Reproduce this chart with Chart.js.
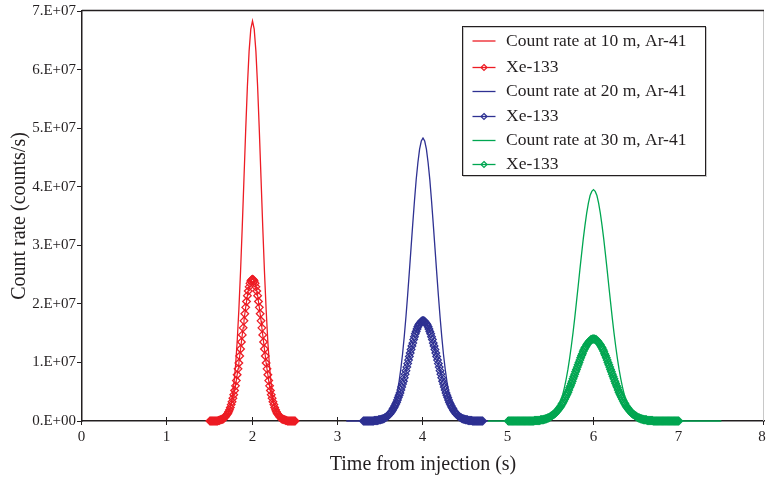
<!DOCTYPE html>
<html>
<head>
<meta charset="utf-8">
<script src="https://cdn.jsdelivr.net/npm/chart.js@4.4.1/dist/chart.umd.min.js"></script>
<style>
  html, body { margin: 0; padding: 0; background: #fff; }
  canvas { display: block; }
</style>
</head>
<body>
<canvas id="chart" width="766" height="482"></canvas>
<script>
// All count rates in units of 1E6 counts/s.
// Each series is sampled on a regular time grid: start time + index * step (s).

const xTicks = [0, 1, 2, 3, 4, 5, 6, 7, 8];
const xTickLabels = ['0', '1', '2', '3', '4', '5', '6', '7', '8'];
const yTickLabels = ['0.E+00', '1.E+07', '2.E+07', '3.E+07', '4.E+07', '5.E+07', '6.E+07', '7.E+07'];

const seriesLabels = [
  'Count rate at 10 m, Ar-41', 'Xe-133',
  'Count rate at 20 m, Ar-41', 'Xe-133',
  'Count rate at 30 m, Ar-41', 'Xe-133'
];

// Ar-41 at 10 m, 1.50 .. 2.50 s every 0.02 s
const ar10Start = 1.5, ar10Step = 0.02;
const ar10 = [
  0, 0, 0, 0, 0, 0,
  0.1, 0.1, 0.2, 0.4, 0.8, 1.4, 2.3, 3.8, 6.1, 9.2, 13.5, 19.0, 25.6, 33.2, 41.4, 49.6, 57.1, 63.1, 66.9,
  68.3,
  66.9, 63.1, 57.1, 49.6, 41.4, 33.2, 25.6, 19.0, 13.5, 9.2, 6.1, 3.8, 2.3, 1.4, 0.8, 0.4, 0.2, 0.1, 0.1,
  0, 0, 0, 0, 0, 0
];

// Xe-133 at 10 m, 1.50 .. 2.50 s every 0.01 s
const xe10Start = 1.5, xe10Step = 0.01;
const xe10 = [
  0, 0, 0, 0, 0, 0, 0, 0, 0, 0,
  0.1, 0.1, 0.2, 0.2, 0.3, 0.3, 0.4, 0.6, 0.7, 0.9,
  1.1, 1.3, 1.6, 1.9, 2.3, 2.8, 3.3, 3.9, 4.5, 5.2,
  6.0, 6.9, 7.9, 8.9, 9.9, 11.1, 12.3, 13.5, 14.7, 15.9,
  17.1, 18.3, 19.4, 20.4, 21.4, 22.2, 22.9, 23.5, 23.9, 24.1,
  24.2,
  24.1, 23.9, 23.5, 22.9, 22.2, 21.4, 20.4, 19.4, 18.3, 17.1,
  15.9, 14.7, 13.5, 12.3, 11.1, 9.9, 8.9, 7.9, 6.9, 6.0,
  5.2, 4.5, 3.9, 3.3, 2.8, 2.3, 1.9, 1.6, 1.3, 1.1,
  0.9, 0.7, 0.6, 0.4, 0.3, 0.3, 0.2, 0.2, 0.1, 0.1,
  0, 0, 0, 0, 0, 0, 0, 0, 0, 0
];

// Ar-41 at 20 m, 3.10 .. 4.76 s every 0.02 s
const ar20Start = 3.1, ar20Step = 0.02;
const ar20 = [
  0, 0, 0, 0, 0, 0, 0, 0, 0, 0, 0, 0, 0, 0, 0, 0, 0, 0, 0,
  0.1, 0.1, 0.2, 0.2, 0.4, 0.6, 0.9, 1.3, 1.9, 2.7, 3.7, 5.1, 6.8,
  8.9, 11.4, 14.4, 17.8, 21.5, 25.5, 29.6, 33.7, 37.6, 41.2, 44.1, 46.4, 47.8,
  48.3,
  47.8, 46.4, 44.1, 41.2, 37.6, 33.7, 29.6, 25.5, 21.5, 17.8, 14.4, 11.4, 8.9,
  6.8, 5.1, 3.7, 2.7, 1.9, 1.3, 0.9, 0.6, 0.4, 0.2, 0.2, 0.1, 0.1,
  0, 0, 0, 0, 0, 0, 0, 0, 0, 0, 0, 0
];

// Xe-133 at 20 m, 3.30 .. 4.70 s every 0.01 s
const xe20Start = 3.3, xe20Step = 0.01;
const xe20 = [
  0, 0, 0, 0, 0, 0, 0, 0, 0, 0, 0, 0, 0,
  0.1, 0.1, 0.1, 0.1, 0.1, 0.2, 0.2, 0.2, 0.3, 0.3,
  0.4, 0.4, 0.5, 0.6, 0.7, 0.8, 0.9, 1.1, 1.2, 1.4,
  1.6, 1.8, 2.1, 2.3, 2.6, 2.9, 3.2, 3.6, 4.0, 4.4,
  4.8, 5.3, 5.8, 6.3, 6.8, 7.4, 8.0, 8.6, 9.2, 9.8,
  10.4, 11.0, 11.6, 12.2, 12.8, 13.3, 13.9, 14.4, 14.9, 15.3,
  15.7, 16.1, 16.4, 16.6, 16.8, 17.0, 17.1,
  17.1,
  17.1, 17.0, 16.8, 16.6, 16.4, 16.1, 15.7,
  15.3, 14.9, 14.4, 13.9, 13.3, 12.8, 12.2, 11.6, 11.0, 10.4,
  9.8, 9.2, 8.6, 8.0, 7.4, 6.8, 6.3, 5.8, 5.3, 4.8,
  4.4, 4.0, 3.6, 3.2, 2.9, 2.6, 2.3, 2.1, 1.8, 1.6,
  1.4, 1.2, 1.1, 0.9, 0.8, 0.7, 0.6, 0.5, 0.4, 0.4,
  0.3, 0.3, 0.2, 0.2, 0.2, 0.1, 0.1, 0.1, 0.1, 0.1,
  0, 0, 0, 0, 0, 0, 0, 0, 0, 0, 0, 0, 0
];

// Ar-41 at 30 m, 4.76 .. 7.50 s every 0.02 s
const ar30Start = 4.76, ar30Step = 0.02;
const ar30 = [
  0, 0, 0, 0, 0, 0, 0, 0, 0, 0, 0, 0, 0, 0, 0, 0,
  0, 0, 0, 0, 0, 0, 0, 0, 0, 0, 0, 0, 0, 0, 0, 0,
  0.1, 0.1, 0.2, 0.3, 0.4, 0.6, 0.8, 1.2, 1.6, 2.1, 2.7, 3.6, 4.6, 5.8, 7.2,
  8.8, 10.7, 12.8, 15.1, 17.6, 20.3, 23.0, 25.8, 28.5, 31.1, 33.4, 35.5, 37.2, 38.5, 39.2,
  39.5,
  39.2, 38.5, 37.2, 35.5, 33.4, 31.1, 28.5, 25.8, 23.0, 20.3, 17.6, 15.1, 12.8, 10.7, 8.8,
  7.2, 5.8, 4.6, 3.6, 2.7, 2.1, 1.6, 1.2, 0.8, 0.6, 0.4, 0.3, 0.2, 0.1, 0.1,
  0, 0, 0, 0, 0, 0, 0, 0, 0, 0, 0, 0, 0, 0, 0,
  0, 0, 0, 0, 0, 0, 0, 0, 0, 0, 0, 0, 0, 0, 0,
  0, 0, 0, 0, 0, 0, 0, 0, 0, 0, 0, 0, 0, 0, 0
];

// Xe-133 at 30 m, 5.00 .. 7.00 s every 0.01 s
const xe30Start = 5.0, xe30Step = 0.01;
const xe30 = [
  0, 0, 0, 0, 0, 0, 0, 0, 0, 0, 0, 0, 0, 0, 0, 0,
  0, 0, 0, 0, 0, 0, 0, 0, 0, 0, 0, 0, 0, 0, 0,
  0.1, 0.1, 0.1, 0.1, 0.1, 0.1, 0.1, 0.2, 0.2, 0.2,
  0.2, 0.3, 0.3, 0.4, 0.4, 0.5, 0.5, 0.6, 0.7, 0.8,
  0.9, 1.0, 1.1, 1.2, 1.3, 1.5, 1.7, 1.8, 2.0, 2.2,
  2.4, 2.6, 2.9, 3.1, 3.4, 3.7, 4.0, 4.3, 4.6, 4.9,
  5.3, 5.7, 6.0, 6.4, 6.8, 7.2, 7.6, 8.0, 8.4, 8.8,
  9.2, 9.6, 10.0, 10.4, 10.8, 11.2, 11.5, 11.9, 12.2, 12.5,
  12.7, 13.0, 13.2, 13.4, 13.6, 13.7, 13.9, 13.9, 14.0,
  14.0,
  14.0, 13.9, 13.9, 13.7, 13.6, 13.4, 13.2, 13.0, 12.7,
  12.5, 12.2, 11.9, 11.5, 11.2, 10.8, 10.4, 10.0, 9.6, 9.2,
  8.8, 8.4, 8.0, 7.6, 7.2, 6.8, 6.4, 6.0, 5.7, 5.3,
  4.9, 4.6, 4.3, 4.0, 3.7, 3.4, 3.1, 2.9, 2.6, 2.4,
  2.2, 2.0, 1.8, 1.7, 1.5, 1.3, 1.2, 1.1, 1.0, 0.9,
  0.8, 0.7, 0.6, 0.5, 0.5, 0.4, 0.4, 0.3, 0.3, 0.2,
  0.2, 0.2, 0.2, 0.1, 0.1, 0.1, 0.1, 0.1, 0.1, 0.1,
  0, 0, 0, 0, 0, 0, 0, 0, 0, 0, 0, 0, 0, 0, 0,
  0, 0, 0, 0, 0, 0, 0, 0, 0, 0, 0, 0, 0, 0, 0, 0
];

const RED = '#ed1c24';
const BLUE = '#2e3192';
const GREEN = '#00a651';
const INK = '#231f20';
const SERIF = '"Liberation Serif", "Times New Roman", Times, serif';

function toPoints(start, step, values) {
  return values.map((v, i) => ({ x: +(start + i * step).toFixed(2), y: v * 1e6 }));
}

function arSet(label, color, start, step, values) {
  return {
    label, data: toPoints(start, step, values),
    borderColor: color, borderWidth: 1.3, pointRadius: 0,
    order: 2, clip: 4, isXe: false
  };
}

function xeSet(label, color, start, step, values) {
  return {
    label, data: toPoints(start, step, values),
    borderColor: color, borderWidth: 1.2,
    pointStyle: 'rectRot', pointRadius: 3.8, pointBorderWidth: 1.3,
    pointBorderColor: color, pointBackgroundColor: 'rgba(255,255,255,0)',
    order: 1, clip: 6, isXe: true
  };
}

// frame on top/right, x ticks crossing the axis with their labels, and the boxed legend
const framePlugin = {
  id: 'frame',
  beforeDatasetsDraw(chart) {
    const { ctx, chartArea: a, scales } = chart;
    ctx.save();
    ctx.strokeStyle = INK;
    ctx.fillStyle = INK;
    ctx.lineWidth = 1;
    ctx.font = '15px ' + SERIF;
    ctx.textAlign = 'center';
    ctx.textBaseline = 'middle';
    xTicks.forEach((v, i) => {
      const px = Math.round(scales.x.getPixelForValue(v)) - 0.5;
      ctx.beginPath();
      ctx.moveTo(px, a.bottom - 4);
      ctx.lineTo(px, a.bottom + 4);
      ctx.stroke();
      ctx.fillText(xTickLabels[i], Math.min(px, 762), a.bottom + 16);
    });
    ctx.strokeStyle = '#c8c8c8';
    ctx.beginPath();
    ctx.moveTo(a.right - 0.5, a.top);
    ctx.lineTo(a.right - 0.5, a.bottom);
    ctx.stroke();
    ctx.strokeStyle = INK;
    ctx.lineWidth = 1.5;
    ctx.beginPath();
    ctx.moveTo(a.left, a.top - 0.5);
    ctx.lineTo(a.right, a.top - 0.5);
    ctx.stroke();
    ctx.restore();
  },
  afterDraw(chart) {
    const { ctx, chartArea: a } = chart;
    const boxL = a.right - 301.5, boxT = a.top + 15.5, boxW = 243, boxH = 149;
    ctx.save();
    ctx.fillStyle = '#fff';
    ctx.fillRect(boxL, boxT, boxW, boxH);
    ctx.strokeStyle = '#c8c8c8';
    ctx.lineWidth = 1;
    ctx.strokeRect(boxL + 1, boxT + 1, boxW, boxH);
    ctx.strokeStyle = INK;
    ctx.strokeRect(boxL, boxT, boxW, boxH);
    ctx.font = '17.5px ' + SERIF;
    ctx.textBaseline = 'middle';
    const rowY = [14.5, 41, 65, 90, 114, 138];
    chart.data.datasets.forEach((ds, i) => {
      const y = boxT + rowY[i];
      const x0 = boxL + 10, x1 = boxL + 33;
      ctx.strokeStyle = ds.borderColor;
      ctx.lineWidth = 1.3;
      ctx.beginPath();
      ctx.moveTo(x0, y);
      ctx.lineTo(x1, y);
      ctx.stroke();
      if (ds.isXe) {
        const cx = (x0 + x1) / 2, r = 3;
        ctx.lineWidth = 1.2;
        ctx.beginPath();
        ctx.moveTo(cx, y - r);
        ctx.lineTo(cx + r, y);
        ctx.lineTo(cx, y + r);
        ctx.lineTo(cx - r, y);
        ctx.closePath();
        ctx.stroke();
      }
      ctx.fillStyle = INK;
      ctx.fillText(ds.label, boxL + 43.5, y);
    });
    ctx.restore();
  }
};

new Chart(document.getElementById('chart'), {
  type: 'line',
  data: {
    datasets: [
      arSet(seriesLabels[0], RED, ar10Start, ar10Step, ar10),
      xeSet(seriesLabels[1], RED, xe10Start, xe10Step, xe10),
      arSet(seriesLabels[2], BLUE, ar20Start, ar20Step, ar20),
      xeSet(seriesLabels[3], BLUE, xe20Start, xe20Step, xe20),
      arSet(seriesLabels[4], GREEN, ar30Start, ar30Step, ar30),
      xeSet(seriesLabels[5], GREEN, xe30Start, xe30Step, xe30)
    ]
  },
  options: {
    responsive: false,
    devicePixelRatio: 1,
    animation: false,
    layout: { autoPadding: false, padding: { top: 11, right: 2, left: 0, bottom: 0 } },
    plugins: { legend: { display: false }, tooltip: { enabled: false } },
    scales: {
      x: {
        type: 'linear', min: 0, max: 8,
        afterFit: s => { s.height = 61; },
        ticks: { display: false, stepSize: 1 },
        grid: { display: false, drawOnChartArea: false, drawTicks: false },
        border: { display: true, color: INK, width: 1.5 },
        title: {
          display: true, text: 'Time from injection (s)', color: INK,
          font: { family: SERIF, size: 20 }, padding: { top: 4, bottom: 5 }
        }
      },
      y: {
        min: 0, max: 7e7,
        afterFit: s => { s.width = 82; },
        ticks: {
          stepSize: 1e7, padding: 1, color: INK,
          font: { family: SERIF, size: 15 },
          callback: (v, i) => yTickLabels[i]
        },
        grid: { drawOnChartArea: false, drawTicks: true, tickLength: 5, color: INK, lineWidth: 1 },
        border: { color: INK, width: 1.5 },
        title: {
          display: true, text: 'Count rate (counts/s)', color: INK,
          font: { family: SERIF, size: 20 }, padding: { top: 8, bottom: 4 }
        }
      }
    }
  },
  plugins: [framePlugin]
});
</script>
</body>
</html>
